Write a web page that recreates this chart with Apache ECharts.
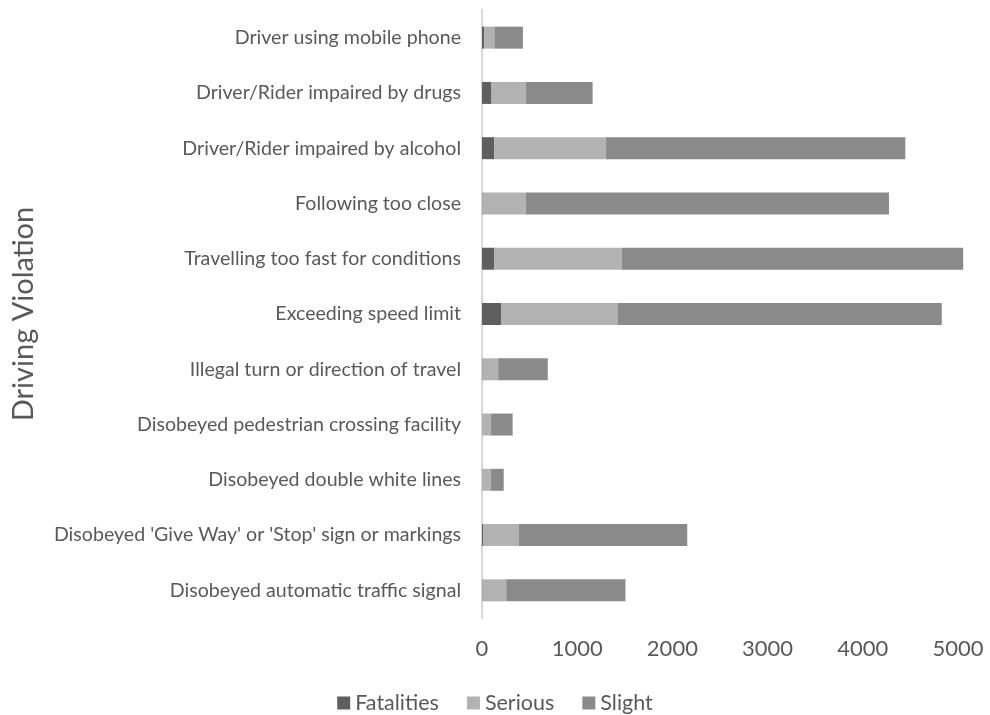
<!DOCTYPE html>
<html>
<head>
<meta charset="utf-8">
<script src="https://cdn.jsdelivr.net/npm/echarts@6/dist/echarts.min.js"></script>
<style>
  html, body { margin: 0; padding: 0; background: #ffffff; }
  #chart { width: 990px; height: 715px; }
</style>
</head>
<body>
<div id="chart"></div>
<script>
// Driving violations, listed top to bottom
const categories = [
  "Driver using mobile phone",
  "Driver/Rider impaired by drugs",
  "Driver/Rider impaired by alcohol",
  "Following too close",
  "Travelling too fast for conditions",
  "Exceeding speed limit",
  "Illegal turn or direction of travel",
  "Disobeyed pedestrian crossing facility",
  "Disobeyed double white lines",
  "Disobeyed 'Give Way' or 'Stop' sign or markings",
  "Disobeyed automatic traffic signal"
];

const fatalities = [25, 100, 130, 5, 130, 200, 5, 3, 3, 15, 5];
const serious    = [105, 360, 1170, 455, 1340, 1223, 165, 92, 92, 370, 250];
const slight     = [300, 702, 3147, 3815, 3585, 3407, 521, 227, 133, 1771, 1252];

const xTicks = { min: 0, max: 5200, interval: 1000 };

const textColor = '#595959';
const fontFamily = 'Lato, "Open Sans", sans-serif';

const chart = echarts.init(document.getElementById('chart'), null, { renderer: 'canvas' });

function barSeries(name, data, color) {
  return {
    name: name,
    type: 'bar',
    stack: 'total',
    data: data,
    barWidth: 22,
    itemStyle: { color: color },
    emphasis: { disabled: true }
  };
}

chart.setOption({
  animation: false,
  backgroundColor: '#ffffff',
  textStyle: { fontFamily: fontFamily, color: textColor },
  grid: { left: 482, right: 13, top: 10, bottom: 97, containLabel: false },
  legend: {
    left: 'center',
    top: 687,
    icon: 'rect',
    itemWidth: 13,
    itemHeight: 13,
    itemGap: 28,
    textStyle: { fontFamily: fontFamily, fontSize: 21.5, color: textColor },
    data: ['Fatalities', 'Serious', 'Slight']
  },
  xAxis: {
    type: 'value',
    min: xTicks.min,
    max: xTicks.max,
    interval: xTicks.interval,
    axisLine: { show: false },
    axisTick: { show: false },
    splitLine: { show: false },
    axisLabel: {
      showMaxLabel: false,
      margin: 20,
      fontSize: 22,
      color: textColor,
      fontFamily: fontFamily,
      formatter: function (v) { return String(v); }
    }
  },
  yAxis: {
    type: 'category',
    data: categories,
    inverse: true,
    name: 'Driving Violation',
    nameLocation: 'middle',
    nameGap: 444,
    nameRotate: 90,
    nameTextStyle: { fontSize: 29, color: textColor, fontFamily: fontFamily },
    axisLine: { show: true, lineStyle: { color: '#d9d9d9', width: 2 } },
    axisTick: { show: false },
    axisLabel: { margin: 21, fontSize: 19.6, color: textColor, fontFamily: fontFamily }
  },
  series: [
    barSeries('Fatalities', fatalities, '#5f5f5f'),
    barSeries('Serious', serious, '#b2b2b2'),
    barSeries('Slight', slight, '#8a8a8a')
  ]
});
</script>
</body>
</html>
